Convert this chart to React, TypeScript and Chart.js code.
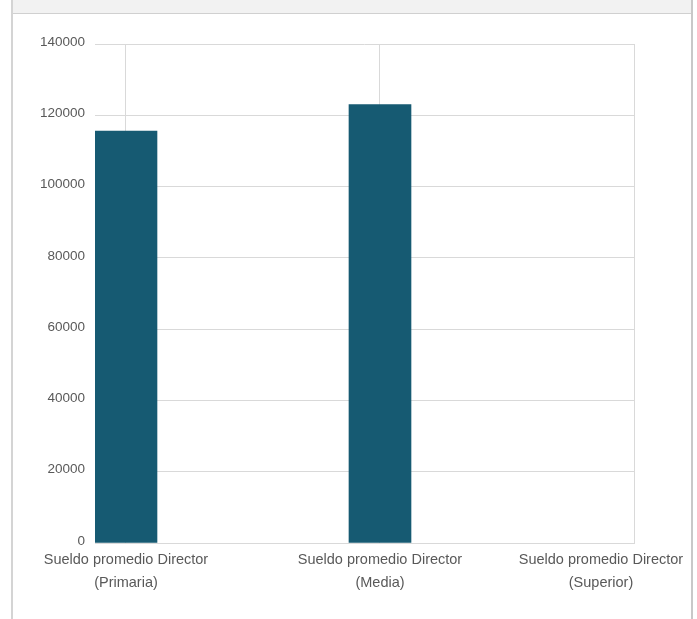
import React, { useEffect, useRef } from "react";
import { Chart, registerables } from "chart.js";

Chart.register(...registerables);

const categories: string[][] = [
  ["Sueldo promedio Director", "(Primaria)"],
  ["Sueldo promedio Director", "(Media)"],
  ["Sueldo promedio Director", "(Superior)"],
];
const salaries: (number | null)[] = [115600, 123000, null];
const yMin = 0;
const yMax = 140000;
const yStep = 20000;

const TEXT = "#595959";
const GRID = "#d9d9d9";
const BAR = "#165a72";
const FONT = "'Liberation Sans', Arial, sans-serif";

export default function App() {
  const ref = useRef<HTMLCanvasElement | null>(null);

  useEffect(() => {
    if (!ref.current) return;
    const xMin = -0.122;
    const xMax = categories.length - 1;
    const chart = new Chart(ref.current, {
      type: "bar",
      data: {
        datasets: [
          {
            data: salaries.map((v, i) => ({ x: i, y: v })) as any,
            backgroundColor: BAR,
            borderWidth: 0,
            barThickness: 62,
            xAxisID: "x",
            yAxisID: "y",
          },
        ],
      },
      options: {
        animation: false,
        responsive: false,
        devicePixelRatio: 1,
        layout: { padding: { left: 0, right: 55, top: 29, bottom: 0 } },
        plugins: { legend: { display: false }, tooltip: { enabled: false } },
        scales: {
          x: {
            type: "linear",
            position: "bottom",
            weight: 0,
            offset: false,
            min: xMin,
            max: xMax,
            afterBuildTicks: (axis: any) => {
              axis.ticks = categories.map((_, i) => ({ value: i }));
            },
            afterFit: (axis: any) => {
              axis.height = 0;
              axis.paddingLeft = 0;
              axis.paddingRight = 0;
            },
            ticks: { display: false },
            grid: { color: GRID, lineWidth: 1, drawTicks: false, offset: false },
            border: { display: true, color: GRID, width: 1 },
          },
          xl: {
            type: "linear",
            position: "bottom",
            weight: 1,
            offset: false,
            min: xMin,
            max: xMax,
            afterBuildTicks: (axis: any) => {
              axis.ticks = categories.map((_, i) => ({
                value: i === categories.length - 1 ? i - 0.13 : i,
              }));
            },
            afterFit: (axis: any) => {
              axis.height = 76;
              axis.paddingLeft = 0;
              axis.paddingRight = 0;
            },
            ticks: {
              autoSkip: false,
              maxRotation: 0,
              minRotation: 0,
              padding: 5,
              color: TEXT,
              font: { family: FONT, size: 14.5, lineHeight: "23px" },
              callback: (_v: any, index: number) => categories[index],
            },
            grid: { display: false, drawTicks: false, offset: false },
            border: { display: false },
          },
          y: {
            type: "linear",
            position: "left",
            min: yMin,
            max: yMax,
            ticks: {
              stepSize: yStep,
              padding: 10,
              labelOffset: -2,
              color: TEXT,
              font: { family: FONT, size: 13.5 },
              callback: (v: any) => String(v),
            },
            afterFit: (axis: any) => {
              axis.width = 82;
              axis.paddingTop = 0;
              axis.paddingBottom = 0;
            },
            grid: { color: GRID, lineWidth: 1, drawTicks: false },
            border: { display: false },
          },
        },
      },
    } as any);
    return () => chart.destroy();
  }, []);

  return (
    <div style={{ position: "absolute", left: 0, top: 0, width: 697, height: 619, overflow: "hidden", background: "#fff" }}>
      <div
        style={{
          position: "absolute",
          left: 11,
          top: 0,
          width: 678,
          height: 619,
          borderLeft: "2px solid #d4d4d4",
          borderRight: "2px solid #c8c8c8",
        }}
      >
        <div
          style={{
            position: "absolute",
            left: 0,
            top: 0,
            width: 678,
            height: 13,
            background: "#f2f2f2",
            borderBottom: "1px solid #d0d0d0",
          }}
        />
      </div>
      <canvas
        ref={ref}
        width={676}
        height={604}
        style={{ position: "absolute", left: 13, top: 15, width: 676, height: 604 }}
      />
    </div>
  );
}
